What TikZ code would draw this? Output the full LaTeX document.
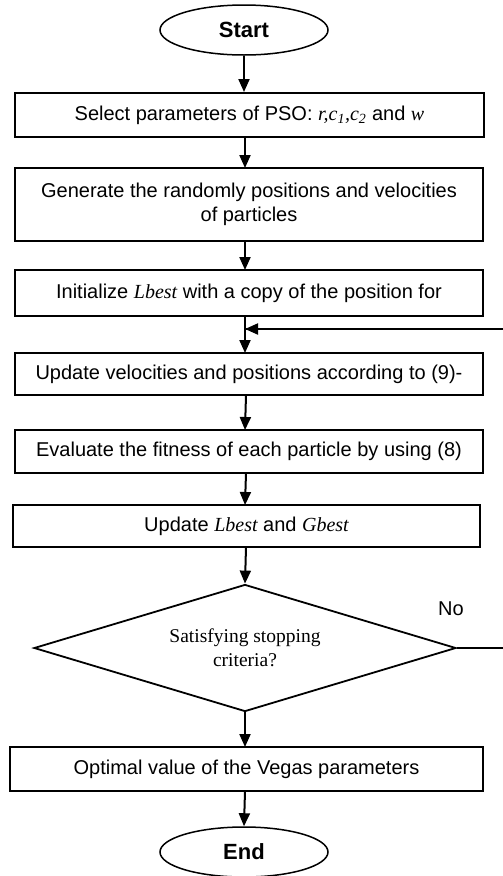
\documentclass[tikz,border=0pt]{standalone}
\usepackage{fontspec}
\setmainfont{Liberation Sans}
\newfontfamily\tms{Liberation Serif}
\usetikzlibrary{shapes.geometric,arrows.meta}

\tikzset{
  base/.style={draw=black, line width=2pt, inner sep=0pt, align=center,
    font=\fontsize{20}{23.5}\selectfont},
  procbox/.style={base, rectangle},
  terminal/.style={base, ellipse, line width=1.5pt,
    minimum width=168pt, minimum height=50pt,
    font=\fontsize{22}{24}\selectfont\bfseries},
  decision/.style={base, diamond, shape aspect=3.3, line width=1.8pt,
    minimum width=422pt, minimum height=127pt,
    font=\fontsize{19.5}{24}\selectfont\tms},
  flow/.style={line width=2pt, -{Triangle[length=13pt,width=11pt]}},
  plainline/.style={line width=1.8pt}
}

\begin{document}
\begin{tikzpicture}[x=1pt,y=-1pt]
  \useasboundingbox (0,0) rectangle (503,876);
  \clip (0,0) rectangle (503,876);

  % terminals, steps and the test
  \node[terminal] (start) at (244,30) {Start};
  \node[procbox, minimum width=469pt, minimum height=44pt] (b1) at (249.5,115)
    {Select parameters of PSO: {\tms\itshape r,c\textsubscript{1},c\textsubscript{2}} and {\tms\itshape w}};
  \node[procbox, minimum width=468pt, minimum height=73pt] (b2) at (249,204.5)
    {Generate the randomly positions and velocities\\of particles};
  \node[procbox, minimum width=468pt, minimum height=46pt] (b3) at (249,293)
    {Initialize {\tms\itshape Lbest} with a copy of the position for};
  \node[procbox, minimum width=468pt, minimum height=42pt] (b4) at (249,374)
    {Update velocities and positions according to (9)-};
  \node[procbox, minimum width=468pt, minimum height=43pt] (b5) at (249,451.5)
    {Evaluate the fitness of each particle by using (8)};
  \node[procbox, minimum width=467pt, minimum height=42pt] (b6) at (246.5,526)
    {Update {\tms\itshape Lbest} and {\tms\itshape Gbest}};
  \node[decision] (dec) at (245,648) {Satisfying stopping\\criteria?};
  \node[procbox, minimum width=473pt, minimum height=44pt] (b7) at (246.5,769)
    {Optimal value of the Vegas parameters};
  \node[terminal] (stop) at (244,852) {End};

  \node[font=\fontsize{20}{22}\selectfont] (no) at (451,609) {No};

  % junction where the loop re-enters the main flow
  \coordinate (join) at (245,329);

  % main flow
  \draw[flow] (start.south) -- (start.south |- b1.north);
  \draw[flow] (245,137) -- (245,168);
  \draw[flow] (245,241) -- (245,270);
  \draw[flow] (245,316) -- (245,353);
  \draw[flow] (246,395) -- (245,430);
  \draw[flow] (246,473) -- (245,505);
  \draw[flow] (246,547) -- (dec.north);
  \draw[flow] (dec.south) -- (245,747);
  \draw[flow] (245,791) -- (stop.north);

  % "No" loop back to the update step
  \draw[plainline] (dec.east) -- (515,648) |- (join);
  \draw[flow] (515,329) -- (join);
\end{tikzpicture}
\end{document}
